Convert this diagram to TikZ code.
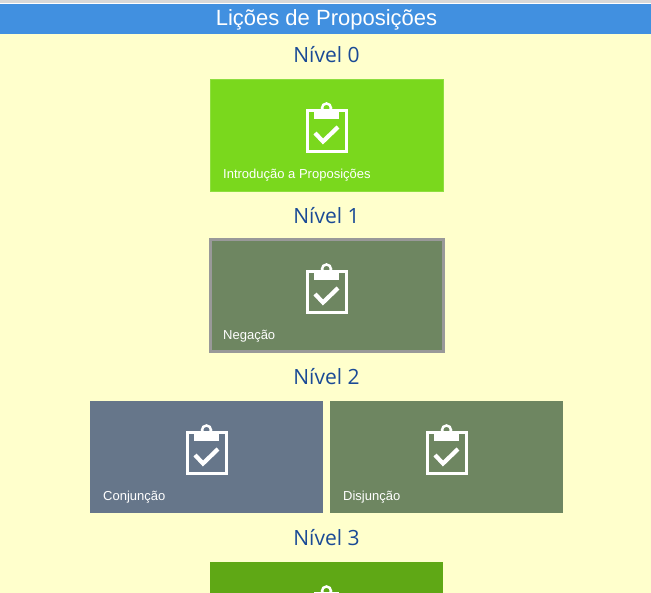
\documentclass[tikz,border=0pt]{standalone}
\usepackage{fontspec}
\setmainfont{Liberation Sans}
\newfontfamily\levelfont{Open Sans}
\usetikzlibrary{positioning}
\definecolor{pagebg}{HTML}{FFFFCC}
\definecolor{barblue}{HTML}{4190E0}
\definecolor{levelblue}{HTML}{1A4A96}
\definecolor{cardlime}{HTML}{7AD81D}
\definecolor{cardmoss}{HTML}{6E8661}
\definecolor{cardslate}{HTML}{66768A}
\definecolor{carddeep}{HTML}{5FA815}
\definecolor{topgrey}{HTML}{D8D8D8}
\begin{document}
\begin{tikzpicture}[x=1pt,y=-1pt,
  levelstyle/.style={text=levelblue,font=\levelfont\fontsize{21}{24}\selectfont,inner sep=0pt},
  cardstyle/.style={anchor=north west,minimum width=233pt,minimum height=112pt,inner sep=0pt,outer sep=0pt},
  captionstyle/.style={text=white,font=\fontsize{13}{15}\selectfont,inner sep=0pt,anchor=base west},
  clipicon/.pic={
    \draw[white,line width=3pt,line join=miter] (-19.5,-22) rectangle (19.5,18.5);
    \fill[white] (-12.5,-24) rectangle (12,-14);
    \draw[white,line width=2.5pt,fill=none] (0,-25) circle (4.5pt);
    \draw[white,line width=4.2pt] (-11.5,0) -- (-3.5,8.5) -- (11.5,-6);
  }]
\useasboundingbox (0,0) rectangle (651,593);
\clip (0,0) rectangle (651,593);
\fill[pagebg] (0,0) rectangle (651,593);
\fill[topgrey] (0,0) rectangle (651,3);
\fill[white] (0,3) rectangle (651,5);
\node[fill=barblue,anchor=north west,minimum width=651pt,minimum height=30pt,inner sep=0pt,outer sep=0pt] (titlebar) at (0,4) {};
\node[text=white,font=\fontsize{22}{26}\selectfont,inner sep=0pt] (title) at (326.5,20) {Lições de Proposições};

\node[levelstyle] (level0) at (326.5,55) {Nível 0};
\node[cardstyle,fill=cardlime,draw=cardlime!85!white] (intro) at (210,79) {};
\pic at (326.5,133) {clipicon};
\node[captionstyle] (introtext) at (223,178.5) {Introdução a Proposições};

\node[levelstyle] (level1) at (326.5,216) {Nível 1};
\node[cardstyle,fill=cardmoss] (neg) at (210,240) {};
\draw[gray!80!white,line width=3pt] (neg.north west) rectangle (neg.south east);
\pic at (326.5,294) {clipicon};
\node[captionstyle] (negtext) at (223,339.5) {Negação};

\node[levelstyle] (level2) at (326.5,377) {Nível 2};
\node[cardstyle,fill=cardslate] (conj) at (90,401) {};
\pic at (206.5,455) {clipicon};
\node[captionstyle] (conjtext) at (103,500.5) {Conjunção};
\node[cardstyle,fill=cardmoss] (disj) at (330,401) {};
\pic at (446.5,455) {clipicon};
\node[captionstyle] (disjtext) at (343,500.5) {Disjunção};

\node[levelstyle] (level3) at (326.5,538) {Nível 3};
\node[cardstyle,fill=carddeep] (last) at (210,562) {};
\pic at (326.5,616) {clipicon};
\end{tikzpicture}
\end{document}
